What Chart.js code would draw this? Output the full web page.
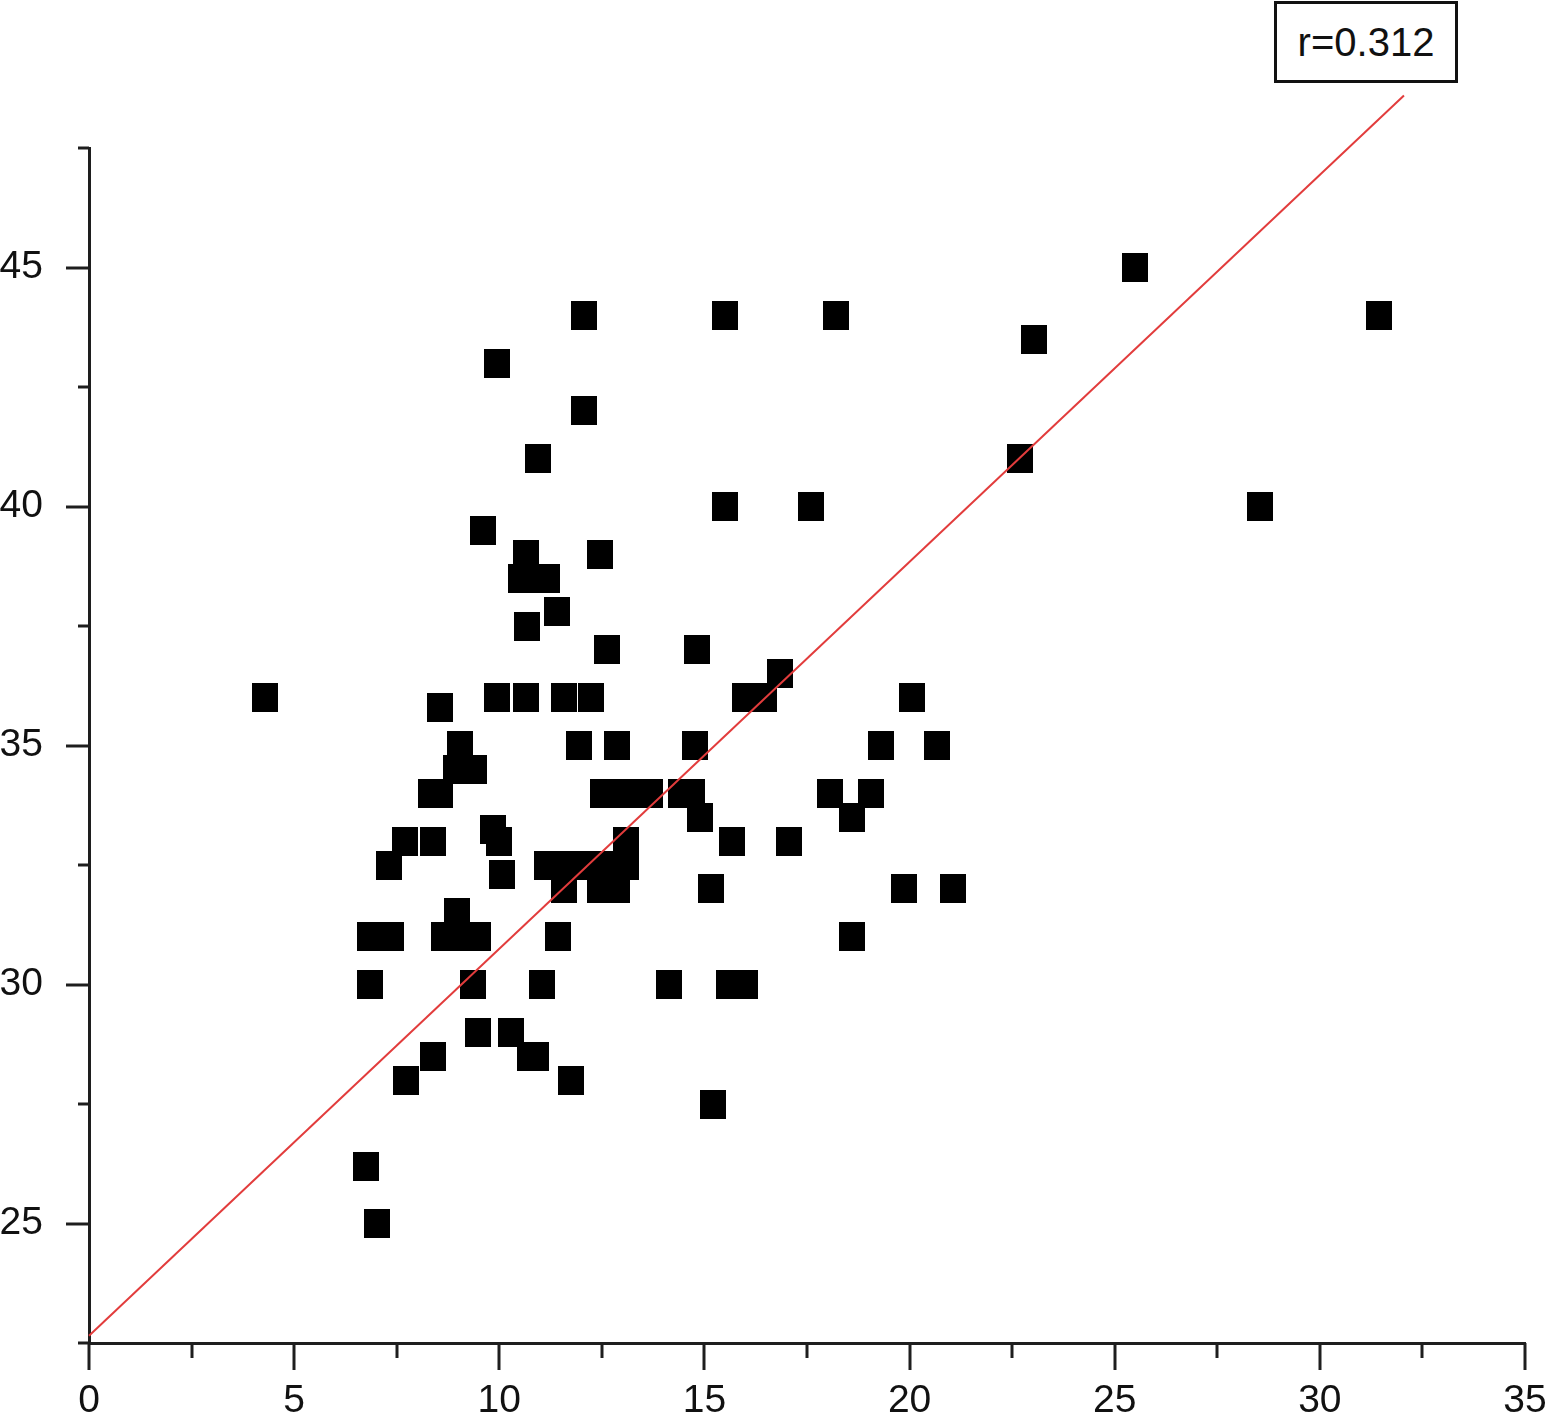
<!DOCTYPE html>
<html>
<head>
<meta charset="utf-8">
<script src="https://cdn.jsdelivr.net/npm/chart.js@4.4.1/dist/chart.umd.min.js"></script>
<style>
  html, body { margin: 0; padding: 0; background: #fff; }
  #wrap { position: relative; width: 1548px; height: 1425px; }
  #rbox {
    position: absolute; left: 1274px; top: 1px; width: 178px; height: 76px;
    border: 3px solid #111; background: #fff;
    font-family: "Liberation Sans", Arial, sans-serif; font-size: 40px; color: #111;
    display: flex; align-items: center; justify-content: center;
  }
</style>
</head>
<body>
<div id="wrap">
  <canvas id="c" width="1548" height="1425"></canvas>
  <div id="rbox">r=0.312</div>
</div>
<script>
// ---- data ----
const xValues = [
  4.3, 6.74, 7.03, 6.86, 6.84, 7.37, 7.3, 7.7, 8.38, 8.33,
  8.55, 8.55, 9.04, 8.94, 9.38, 8.96, 8.65, 9.06, 9.48, 9.36,
  9.48, 10.28, 10.75, 10.9, 8.38, 7.72, 11.75, 11.04, 11.43, 9.85,
  10.0, 10.06, 9.6, 9.94, 12.07, 12.07, 10.94, 10.65, 10.53, 11.16,
  11.41, 10.67, 12.63, 12.46, 9.94, 10.65, 11.58, 12.24, 11.94, 12.87,
  11.16, 11.72, 12.28, 12.84, 11.58, 12.46, 12.87, 13.09, 13.09, 12.53,
  13.14, 13.68, 14.44, 14.7, 14.9, 15.66, 15.17, 14.83, 14.78, 14.14,
  15.2, 15.49, 15.49, 15.6, 16.0, 16.0, 16.46, 16.85, 17.07, 17.6,
  18.2, 18.05, 18.6, 19.05, 18.6, 19.3, 20.05, 19.86, 20.66, 21.05,
  22.7, 23.03, 25.5, 28.53, 31.44
];
const yValues = [
  36.0, 26.2, 25.0, 30.0, 31.0, 31.0, 32.5, 33.0, 33.0, 34.0,
  34.0, 35.8, 35.0, 34.5, 34.5, 31.5, 31.0, 31.0, 31.0, 30.0,
  29.0, 29.0, 28.5, 28.5, 28.5, 28.0, 28.0, 30.0, 31.0, 33.25,
  33.0, 32.3, 39.5, 43.0, 44.0, 42.0, 41.0, 39.0, 38.5, 38.5,
  37.8, 37.5, 37.0, 39.0, 36.0, 36.0, 36.0, 36.0, 35.0, 35.0,
  32.5, 32.5, 32.5, 32.5, 32.0, 32.0, 32.0, 33.0, 32.5, 34.0,
  34.0, 34.0, 34.0, 34.0, 33.5, 33.0, 32.0, 37.0, 35.0, 30.0,
  27.5, 44.0, 40.0, 30.0, 30.0, 36.0, 36.0, 36.5, 33.0, 40.0,
  44.0, 34.0, 33.5, 34.0, 31.0, 35.0, 36.0, 32.0, 35.0, 32.0,
  41.0, 43.5, 45.0, 40.0, 44.0
];
// regression line end points
const fitX = [0, 32.05];
const fitY = [22.65, 48.6];
// axis tick settings (values)
const xMin = 0, xMax = 35, xStep = 2.5, xLabelEvery = 5;
const yMin = 22.5, yMax = 47.5, yStep = 2.5, yLabelEvery = 5;

// ---- build ----
const points = xValues.map((x, i) => ({ x: x, y: yValues[i] }));
const fitPoints = fitX.map((x, i) => ({ x: x, y: fitY[i] }));

const sq = document.createElement('canvas');
sq.width = 26; sq.height = 29;
const sctx = sq.getContext('2d');
sctx.fillStyle = '#000';
sctx.fillRect(0, 0, 26, 29);

const FONT = { family: '"Liberation Sans", Arial, sans-serif', size: 39 };
const AXIS = '#1e1e1e';

const tickPlugin = {
  id: 'tickMarks',
  afterDraw(chart) {
    const ctx = chart.ctx;
    const xs = chart.scales.x, ys = chart.scales.y;
    ctx.save();
    ctx.strokeStyle = AXIS;
    ctx.lineWidth = 3;
    ctx.lineCap = 'butt';
    xs.ticks.forEach(t => {
      const px = Math.round(xs.getPixelForValue(t.value));
      const major = Math.abs(t.value % xLabelEvery) < 1e-6;
      const len = major ? 27 : 15;
      ctx.beginPath();
      ctx.moveTo(px, xs.top);
      ctx.lineTo(px, xs.top + len);
      ctx.stroke();
    });
    ys.ticks.forEach(t => {
      const py = Math.round(ys.getPixelForValue(t.value));
      const major = Math.abs(t.value % yLabelEvery) < 1e-6;
      const len = major ? 23 : 11;
      ctx.beginPath();
      ctx.moveTo(ys.right, py);
      ctx.lineTo(ys.right - len, py);
      ctx.stroke();
    });
    ctx.restore();
  }
};

new Chart(document.getElementById('c'), {
  type: 'scatter',
  data: {
    datasets: [
      {
        type: 'line',
        data: fitPoints,
        borderColor: '#e23c3c',
        borderWidth: 2,
        pointRadius: 0,
        fill: false,
        clip: false
      },
      {
        data: points,
        pointStyle: sq,
        pointRadius: 13,
        pointHoverRadius: 13,
        backgroundColor: '#000',
        borderColor: '#000'
      }
    ]
  },
  options: {
    responsive: false,
    devicePixelRatio: 1,
    animation: false,
    events: [],
    layout: { padding: { top: 148, right: 23, left: 0, bottom: 0 } },
    plugins: { legend: { display: false }, tooltip: { enabled: false }, title: { display: false } },
    scales: {
      x: {
        type: 'linear',
        min: xMin, max: xMax,
        afterFit(s) { s.height = 82; s.paddingLeft = 0; s.paddingRight = 0; },
        border: { display: true, color: AXIS, width: 3 },
        grid: { drawOnChartArea: false, drawTicks: false },
        ticks: {
          stepSize: xStep, autoSkip: false, maxRotation: 0, padding: 35,
          color: '#111', font: FONT,
          callback: v => (Math.abs(v % xLabelEvery) < 1e-6 ? String(v) : '')
        }
      },
      y: {
        type: 'linear',
        min: yMin, max: yMax,
        afterFit(s) { s.width = 89; s.paddingTop = 0; s.paddingBottom = 0; },
        border: { display: true, color: AXIS, width: 3 },
        grid: { drawOnChartArea: false, drawTicks: false },
        ticks: {
          stepSize: yStep, autoSkip: false, padding: 46,
          color: '#111', font: FONT,
          callback: v => (Math.abs(v % yLabelEvery) < 1e-6 ? String(v) : '')
        }
      }
    }
  },
  plugins: [tickPlugin]
});
</script>
</body>
</html>
